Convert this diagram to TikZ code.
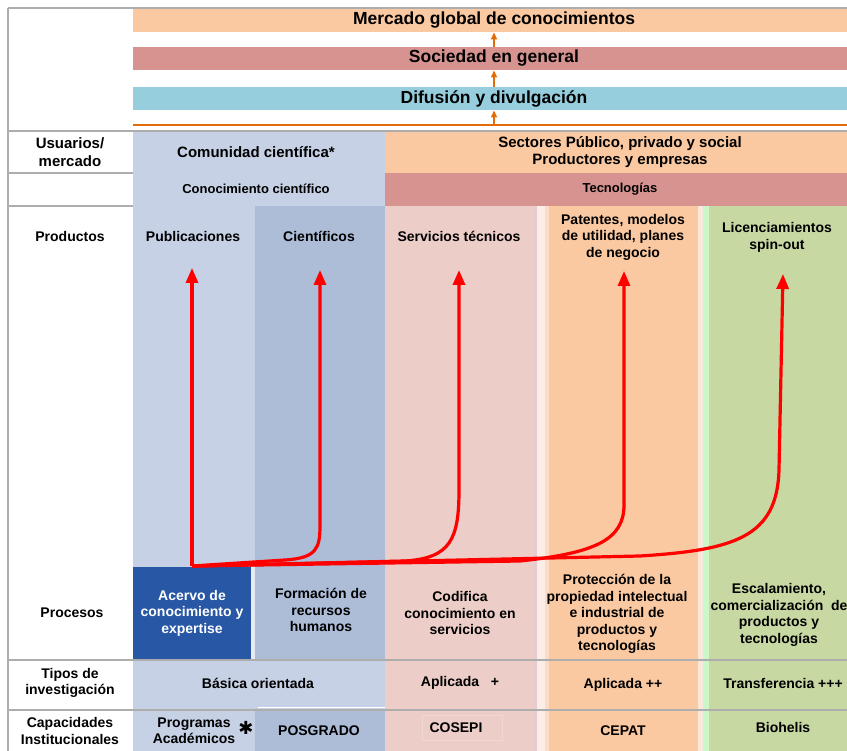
\documentclass[tikz,border=0pt]{standalone}
\usepackage{fontspec}
\setmainfont{Liberation Sans}
\newfontfamily\dejavu{DejaVu Sans}
\usetikzlibrary{arrows.meta}
\definecolor{lblue}{HTML}{C6D1E5}
\definecolor{mblue}{HTML}{ADBDD8}
\definecolor{dblue}{HTML}{2757A5}
\definecolor{pinkC}{HTML}{ECCDC8}
\definecolor{peachC}{HTML}{FAC9A1}
\definecolor{rosyC}{HTML}{D6938F}
\definecolor{difC}{HTML}{96CEDE}
\definecolor{greenC}{HTML}{C8D8A3}
\definecolor{orangeC}{HTML}{E36C0A}
\definecolor{grayL}{HTML}{ADADAD}
\definecolor{stripA}{HTML}{E6CCD2}
\definecolor{stripB}{HTML}{FBEEE6}
\definecolor{stripC}{HTML}{FCDCC6}
\definecolor{stripD}{HTML}{FAE8DC}
\definecolor{stripE}{HTML}{CCF7C8}
\definecolor{arrRed}{HTML}{FF0000}
\begin{document}
\begin{tikzpicture}[x=1pt,y=-1pt,
  txt/.style={font=\bfseries\fontsize{14}{16.5}\selectfont, align=center, inner sep=0pt, text=black},
  txtbig/.style={font=\bfseries\fontsize{15}{17.5}\selectfont, align=center, inner sep=0pt, text=black},
  txtsmall/.style={font=\bfseries\fontsize{13}{15}\selectfont, align=center, inner sep=0pt, text=black},
  band/.style={minimum width=722pt, minimum height=23.5pt, inner sep=0pt, font=\bfseries\fontsize{17.5}{20}\selectfont},
  gline/.style={draw=grayL, line width=1.2pt},
  orline/.style={draw=orangeC, line width=2.5pt},
  orarr/.style={draw=orangeC, line width=1.5pt, -{Triangle[width=6pt,length=7pt]}},
  redarr/.style={draw=arrRed, line width=3.2pt, line join=round, -{Triangle[width=12pt,length=15pt]}}
]
\useasboundingbox (0,0) rectangle (847,751);
\fill[white] (0,0) rectangle (847,751);

% frame lines
\draw[gline] (8,8) -- (855,8);
\draw[gline] (8,8) -- (8,755);

% top bands
\node[band, fill=peachC] (mercado) at (494,20.5) {Mercado global de conocimientos};
\node[band, fill=rosyC] (sociedad) at (494,58.5) {Sociedad en general};
\node[band, fill=difC] (difusion) at (494,98.5) {Difusión y divulgación};
\draw[orline] (133,125) -- (855,125);
\coordinate (ol) at (494,125);
\draw[orarr] (ol) -- (difusion.south);
\draw[orarr] (difusion.north) -- (sociedad.south);
\draw[orarr] (sociedad.north) -- (mercado.south);

% table backgrounds
\fill[lblue] (133,131) rectangle (385,206);
\fill[peachC] (385,131) rectangle (855,173);
\fill[rosyC] (385,173) rectangle (855,206);
\fill[lblue] (133,206) rectangle (255,567);
\fill[mblue] (255,206) rectangle (385,660);
\fill[dblue] (133,567) rectangle (251,660);
\fill[white!55!lblue] (251,567) rectangle (255,660);
\fill[lblue] (133,660) rectangle (385,710);
\fill[lblue] (133,710) rectangle (255,751);
\fill[mblue] (255,710) rectangle (385,751);
\draw[white, line width=1pt] (258,707) -- (385,707);
\fill[pinkC] (385,206) rectangle (533,751);
\fill[stripA] (533,206) rectangle (537,751);
\fill[stripB] (537,206) rectangle (545,751);
\fill[stripC] (545,206) rectangle (549,751);
\fill[peachC] (549,206) rectangle (698,751);
\fill[stripD] (698,206) rectangle (703,751);
\fill[stripE] (703,206) rectangle (709,751);
\fill[greenC] (709,206) rectangle (855,751);
\draw[white, opacity=0.25, line width=0.8pt] (422,715) rectangle (502,740);

% grid lines
\draw[gline] (8,131) -- (855,131);
\draw[gline] (8,173) -- (133,173);
\draw[gline] (8,206) -- (133,206);
\draw[gline] (8,660) -- (855,660);
\draw[gline] (8,710) -- (855,710);

% texts
\node[txtbig] (usu) at (70,152) {Usuarios/\\mercado};
\node[txtbig] (comu) at (256,152) {Comunidad científica*};
\node[txtbig] (sect) at (620,152) {Sectores Público, privado y social\\Productores y empresas};
\node[txtsmall] (conoc) at (256,189) {Conocimiento científico};
\node[txtsmall] (tecno) at (620,189) {Tecnologías};
\node[txt] (prod) at (70,236) {Productos};
\node[txt] (publ) at (193,236) {Publicaciones};
\node[txt] (cient) at (319,236) {Científicos};
\node[txt] (serv) at (459,236) {Servicios técnicos};
\node[txt] (pat) at (623,237) {Patentes, modelos\\de utilidad, planes\\de negocio};
\node[txt] (lic) at (777,237.5) {Licenciamientos\\spin-out};
\node[txt] (proc) at (72,613) {Procesos};
\node[txt, text=white] (acervo) at (192,613) {Acervo de\\conocimiento y\\expertise};
\node[txt] (form) at (321,610) {Formación de\\recursos\\humanos};
\node[txt] (codif) at (460,613) {Codifica\\conocimiento en\\servicios};
\node[txt] (prot) at (617,614) {Protección de la\\propiedad intelectual\\e industrial de\\productos y\\tecnologías};
\node[txt] (esca) at (779,615) {Escalamiento,\\comercialización\ \ de\\productos y\\tecnologías};
\node[txt] (tipos) at (70,683) {Tipos de\\investigación};
\node[txt] (basica) at (258,683) {Básica orientada};
\node[txt] (apl1) at (460,683) {Aplicada\ \ \ +};
\node[txt] (apl2) at (623,685) {Aplicada ++};
\node[txt] (transf) at (783,683) {Transferencia +++};
\node[txt] (capac) at (70,731) {Capacidades\\Institucionales};
\node[txt] (prog) at (194,731) {Programas\\Académicos};
\node[inner sep=0pt, font=\dejavu\fontsize{18}{18}\selectfont] (ast) at (246,728) {✱};
\node[txt] (posg) at (319,731) {POSGRADO};
\node[txt] (cosepi) at (456,728) {COSEPI};
\node[txt] (cepat) at (623,731) {CEPAT};
\node[txt] (bioh) at (783,727) {Biohelis};

% red arrows
\coordinate (o) at (192,566);
\coordinate (t1) at (192,268);
\coordinate (t2) at (320,270);
\coordinate (t3) at (459,270);
\coordinate (t4) at (624,271);
\coordinate (t5) at (783,274);
\draw[redarr] (o) -- (t1);
\draw[redarr] (o) -- (285,560) .. controls (317,558) and (320,548) .. (320,525) -- (t2);
\draw[redarr] (o) -- (405,561) .. controls (450,558) and (459,540) .. (459,490) -- (t3);
\draw[redarr] (o) -- (520,561) .. controls (595,553) and (624,540) .. (624,505) -- (t4);
\draw[redarr] (o) -- (640,556) .. controls (735,550) and (777,537) .. (779,470) -- (t5);
\end{tikzpicture}
\end{document}
